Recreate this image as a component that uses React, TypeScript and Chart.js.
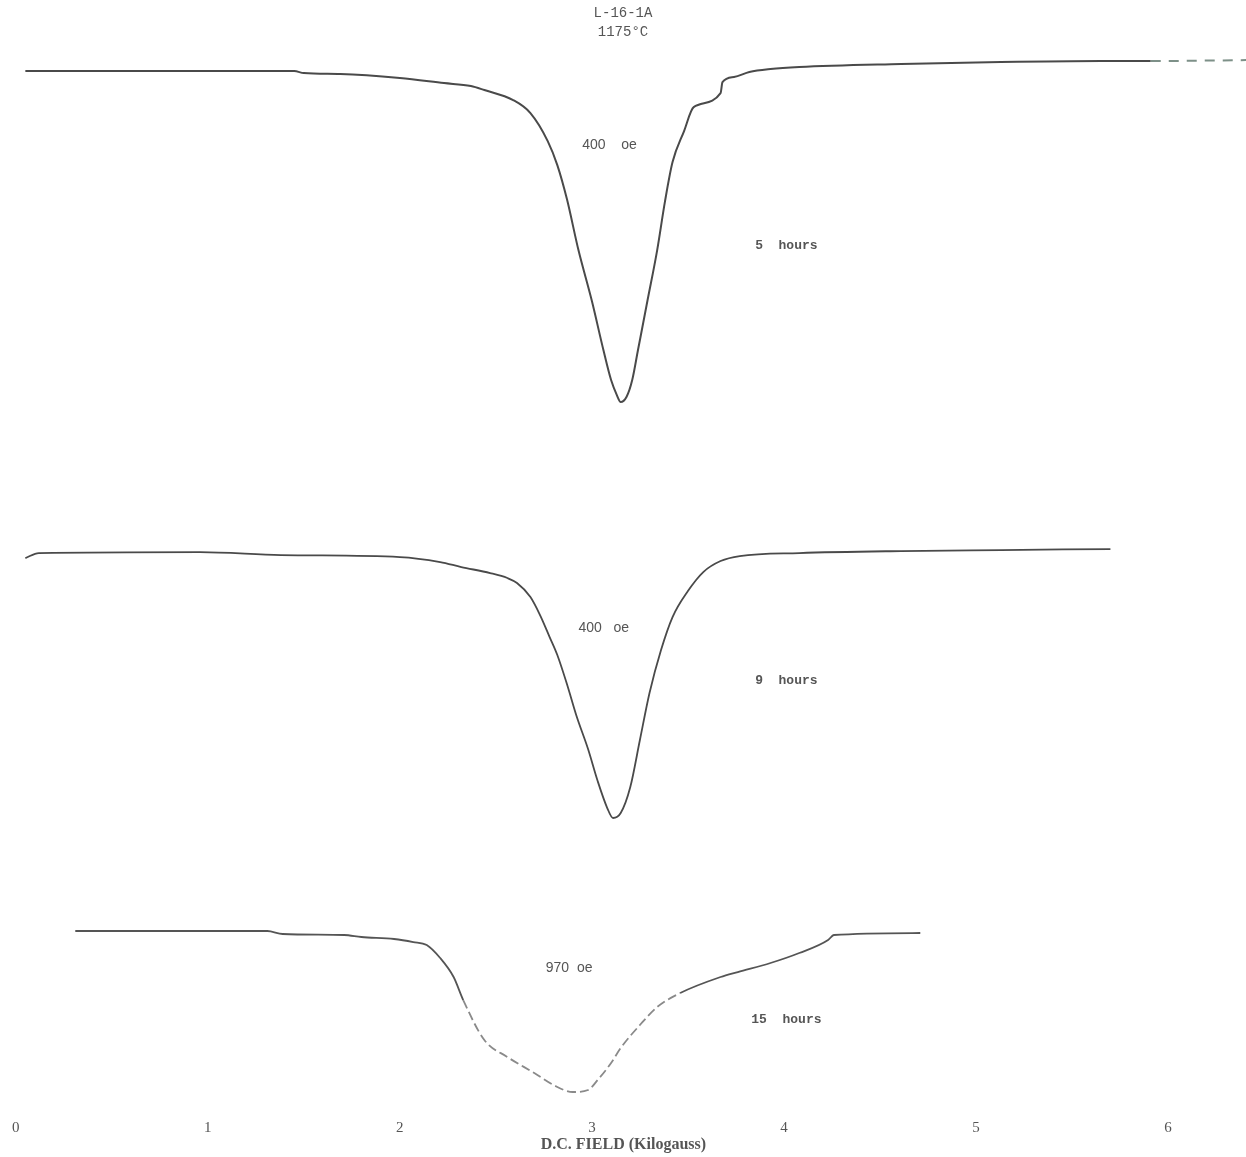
import React, { useEffect, useRef } from "react";
import { Chart, registerables } from "chart.js";

Chart.register(...registerables);

// D.C. field in kilogauss, signal in arbitrary chart-recorder units
const field5h = [0.05, 1.45, 1.5, 1.69, 2.0, 2.23, 2.37, 2.44, 2.59, 2.68, 2.77, 2.82, 2.87, 2.93, 3.0, 3.06, 3.1, 3.13, 3.15, 3.18, 3.21, 3.24, 3.29, 3.34, 3.38, 3.42, 3.48, 3.53, 3.67, 3.68, 3.74, 3.82, 3.93, 4.08, 4.61, 5.13, 5.65, 5.91, 6.41];
const signal5h = [1036, 1036, 1034, 1033, 1029, 1024, 1021, 1017, 1007, 994, 966, 942, 908, 857, 806, 757, 727, 712, 705, 710, 727, 757, 807, 857, 905, 945, 976, 1000, 1014, 1025, 1030, 1035, 1038, 1040, 1043, 1045, 1046, 1046, 1047];

const field9h = [0.05, 0.12, 0.96, 1.38, 2.0, 2.21, 2.32, 2.47, 2.56, 2.61, 2.68, 2.73, 2.78, 2.82, 2.87, 2.92, 2.98, 3.03, 3.08, 3.11, 3.15, 3.2, 3.25, 3.3, 3.36, 3.42, 3.5, 3.58, 3.67, 3.77, 4.08, 4.61, 5.13, 5.7];
const signal9h = [549, 554, 555, 552, 550, 545, 540, 534, 529, 524, 510, 492, 470, 452, 423, 391, 358, 326, 299, 289, 294, 320, 367, 414, 457, 490, 516, 535, 546, 551, 554, 556, 557, 558];

const field15h = [0.31, 1.31, 1.39, 1.71, 1.8, 1.97, 2.07, 2.14, 2.21, 2.28, 2.33, 2.44, 2.56, 2.7, 2.8, 2.9, 2.98, 3.03, 3.1, 3.15, 3.25, 3.34, 3.46, 3.67, 3.76, 3.93, 4.08, 4.23, 4.26, 4.71];
const signal15h = [176, 176, 173, 172, 170, 168, 165, 162, 149, 130, 107, 67, 50, 34, 22, 15, 17, 27, 44, 59, 82, 100, 114, 130, 135, 144, 154, 167, 172, 174];

const tickValues = [0, 1, 2, 3, 4, 5, 6];

const titleLines = ["L-16-1A", "1175°C"];
const axisTitle = "D.C. FIELD (Kilogauss)";

// annotations: [text, field, signal, font family]
const notes: [string, number, number, string][] = [
  ["400    oe", 2.95, 962, "sans"],
  ["5  hours", 3.85, 861, "mono"],
  ["400   oe", 2.93, 479, "sans"],
  ["9  hours", 3.85, 426, "mono"],
  ["970  oe", 2.76, 139, "sans"],
  ["15  hours", 3.83, 87, "mono"],
];

const toPoints = (xs: number[], ys: number[]) => xs.map((x, i) => ({ x, y: ys[i] }));

const notesPlugin = {
  id: "notes",
  afterDatasetsDraw(chart: any) {
    const { ctx, scales } = chart;
    ctx.save();
    ctx.fillStyle = "#555";
    ctx.textBaseline = "middle";
    ctx.textAlign = "left";
    notes.forEach(([t, x, y, fam]) => {
      ctx.font = fam === "sans" ? "14px 'Liberation Sans', Arial, sans-serif" : "bold 13px 'Liberation Mono', monospace";
      ctx.fillText(t, scales.x.getPixelForValue(x), scales.y.getPixelForValue(y));
    });
    ctx.restore();
  },
};

const LINE = "#4a4a4a";

export default function App() {
  const ref = useRef<HTMLCanvasElement | null>(null);
  useEffect(() => {
    if (!ref.current) return;
    const chart = new Chart(ref.current, {
      type: "line",
      data: {
        datasets: [
          {
            label: "5 hours",
            data: toPoints(field5h, signal5h),
            borderColor: LINE,
            borderWidth: 2,
            pointRadius: 0,
            cubicInterpolationMode: "monotone",
            segment: {
              borderDash: (c: any) => (c.p0.parsed.x >= 5.9 ? [10, 8] : undefined),
              borderColor: (c: any) => (c.p0.parsed.x >= 5.9 ? "#7d9088" : undefined),
            },
          },
          {
            label: "9 hours",
            data: toPoints(field9h, signal9h),
            borderColor: LINE,
            borderWidth: 1.8,
            pointRadius: 0,
            cubicInterpolationMode: "monotone",
          },
          {
            label: "15 hours",
            data: toPoints(field15h, signal15h),
            borderColor: "#555",
            borderWidth: 1.8,
            pointRadius: 0,
            cubicInterpolationMode: "monotone",
            segment: {
              borderDash: (c: any) => (c.p0.parsed.x >= 2.33 && c.p1.parsed.x <= 3.46 ? [9, 4] : undefined),
              borderColor: (c: any) => (c.p0.parsed.x >= 2.33 && c.p1.parsed.x <= 3.46 ? "#8a8a8a" : undefined),
            },
          },
        ],
      },
      options: {
        animation: false,
        responsive: false,
        layout: { padding: 0 },
        plugins: {
          legend: { display: false },
          tooltip: { enabled: false },
          title: {
            display: true,
            text: titleLines,
            color: "#555",
            font: { family: "'Liberation Mono', monospace", size: 14, weight: "normal", lineHeight: 1.36 },
            padding: { top: 4, bottom: 0 },
          },
        },
        scales: {
          x: {
            type: "linear",
            min: -0.078,
            max: 6.406,
            grid: { display: false, drawTicks: false },
            border: { display: false },
            afterFit: (s: any) => {
              s.height = 50;
            },
            afterBuildTicks: (s: any) => {
              s.ticks = tickValues.map((v) => ({ value: v }));
            },
            ticks: {
              color: "#555",
              padding: 12,
              font: { family: "'Liberation Serif', serif", size: 15 },
              callback: (v: any) => String(v),
            },
            title: {
              display: true,
              text: axisTitle,
              color: "#555",
              font: { family: "'Liberation Serif', serif", size: 16, weight: "bold" },
              padding: { top: 0, bottom: 3 },
            },
          },
          y: {
            type: "linear",
            display: false,
            min: 0,
            max: 1065,
          },
        },
      },
      plugins: [notesPlugin],
    } as any);
    return () => chart.destroy();
  }, []);
  return (
    <div style={{ position: "absolute", left: 0, top: 0, width: 1246, height: 1157, background: "#fff" }}>
      <canvas ref={ref} width={1246} height={1157} style={{ display: "block" }} />
    </div>
  );
}
